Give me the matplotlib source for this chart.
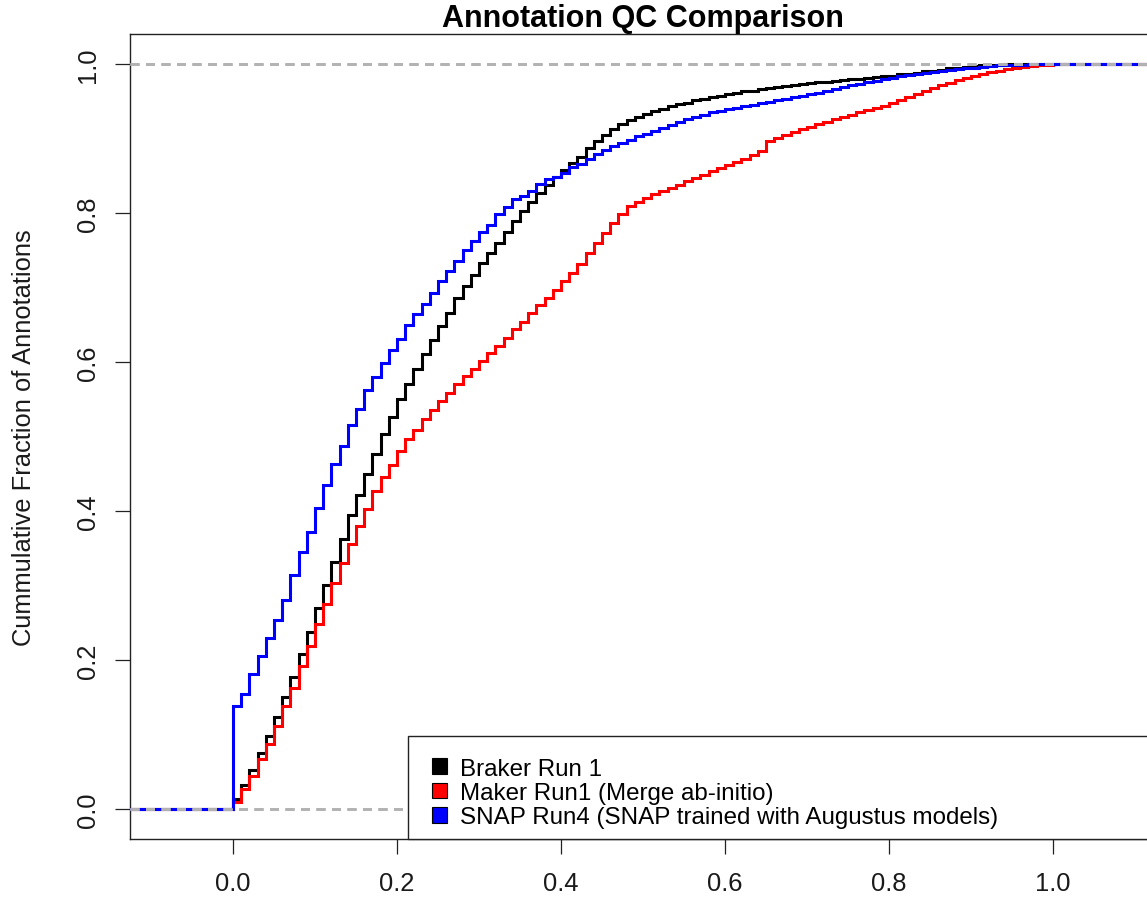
import numpy as np
import matplotlib
matplotlib.use("Agg")
import matplotlib.pyplot as plt
from matplotlib.patches import Patch, Rectangle

plt.rcParams["font.family"] = ["Liberation Sans", "DejaVu Sans"]

# QC score grid (steps of 0.01) and cumulative fraction of annotations at each step
qc_grid = np.round(np.arange(0, 101) / 100.0, 2)

braker_run1 = [
    0.014, 0.033, 0.053, 0.075, 0.098, 0.124, 0.150, 0.178, 0.208, 0.238,
    0.270, 0.301, 0.332, 0.363, 0.395, 0.422, 0.450, 0.477, 0.503, 0.526,
    0.550, 0.571, 0.591, 0.611, 0.630, 0.648, 0.666, 0.686, 0.702, 0.717,
    0.733, 0.746, 0.760, 0.775, 0.789, 0.802, 0.815, 0.827, 0.838, 0.848,
    0.858, 0.867, 0.875, 0.887, 0.896, 0.905, 0.912, 0.919, 0.924, 0.929,
    0.933, 0.937, 0.940, 0.943, 0.946, 0.948, 0.951, 0.953, 0.955, 0.957,
    0.959, 0.961, 0.963, 0.964, 0.966, 0.967, 0.969, 0.970, 0.972, 0.973,
    0.974, 0.975, 0.976, 0.977, 0.978, 0.979, 0.980, 0.981, 0.982, 0.983,
    0.984, 0.986, 0.987, 0.988, 0.990, 0.991, 0.992, 0.994, 0.995, 0.996,
    0.997, 0.998, 0.999, 0.999, 1.000, 1.000, 1.000, 1.000, 1.000, 1.000,
    1.000,
]

maker_run1 = [
    0.009, 0.027, 0.045, 0.067, 0.087, 0.112, 0.138, 0.163, 0.192, 0.219,
    0.248, 0.275, 0.304, 0.330, 0.356, 0.380, 0.403, 0.427, 0.445, 0.462,
    0.480, 0.496, 0.509, 0.524, 0.536, 0.547, 0.559, 0.570, 0.581, 0.591,
    0.601, 0.612, 0.622, 0.632, 0.644, 0.654, 0.666, 0.676, 0.686, 0.697,
    0.708, 0.719, 0.732, 0.746, 0.760, 0.773, 0.786, 0.799, 0.809, 0.815,
    0.820, 0.825, 0.829, 0.834, 0.838, 0.843, 0.847, 0.851, 0.856, 0.860,
    0.864, 0.868, 0.872, 0.877, 0.883, 0.897, 0.901, 0.905, 0.908, 0.912,
    0.915, 0.919, 0.922, 0.926, 0.929, 0.932, 0.935, 0.938, 0.941, 0.944,
    0.947, 0.951, 0.955, 0.959, 0.963, 0.967, 0.971, 0.974, 0.978, 0.981,
    0.984, 0.987, 0.989, 0.991, 0.993, 0.995, 0.996, 0.997, 0.998, 0.999,
    1.000,
]

snap_run4 = [
    0.139, 0.154, 0.181, 0.206, 0.230, 0.254, 0.281, 0.314, 0.345, 0.372,
    0.404, 0.435, 0.463, 0.487, 0.515, 0.537, 0.562, 0.580, 0.599, 0.616,
    0.631, 0.649, 0.664, 0.678, 0.693, 0.708, 0.722, 0.735, 0.750, 0.762,
    0.774, 0.784, 0.798, 0.808, 0.818, 0.823, 0.829, 0.839, 0.846, 0.848,
    0.853, 0.861, 0.866, 0.872, 0.879, 0.885, 0.890, 0.894, 0.898, 0.903,
    0.906, 0.910, 0.914, 0.918, 0.922, 0.926, 0.929, 0.932, 0.935, 0.937,
    0.939, 0.941, 0.943, 0.945, 0.947, 0.949, 0.951, 0.953, 0.955, 0.957,
    0.959, 0.961, 0.963, 0.966, 0.969, 0.971, 0.973, 0.975, 0.977, 0.979,
    0.981, 0.983, 0.985, 0.986, 0.988, 0.989, 0.991, 0.992, 0.993, 0.994,
    0.995, 0.996, 0.997, 0.998, 0.998, 0.999, 0.999, 1.000, 1.000, 1.000,
    1.000,
]

series_labels = [
    "Braker Run 1",
    "Maker Run1 (Merge ab-initio)",
    "SNAP Run4 (SNAP trained with Augustus models)",
]
series_colors = ["#000000", "#FF0000", "#0000FF"]
series_values = [braker_run1, maker_run1, snap_run4]

x_ticks = [0.0, 0.2, 0.4, 0.6, 0.8, 1.0]
y_ticks = [0.0, 0.2, 0.4, 0.6, 0.8, 1.0]

XLIM = (-0.1256, 1.1256)
YLIM = (-0.04, 1.04)

W, H = 1147, 904
fig = plt.figure(figsize=(W / 100, H / 100), dpi=100)
ax = fig.add_axes([130 / W, (H - 840) / H, 1026 / W, 805 / H])
ax.set_xlim(*XLIM)
ax.set_ylim(*YLIM)

# empirical CDFs as post-steps, extended to the plot edges
for vals, col in zip(series_values, series_colors):
    xs = np.concatenate([[XLIM[0]], qc_grid, [XLIM[1]]])
    ys = np.concatenate([[0.0], vals, [1.0]])
    ax.step(xs, ys, where="post", color=col, lw=2.2, zorder=3,
            solid_joinstyle="miter")
    # reference lines at 0 and 1
    for h in (0.0, 1.0):
        ax.axhline(h, color="#B3B3B3", lw=1.8, ls=(0, (3.6, 2.6)), zorder=4)

ax.set_xticks(x_ticks)
ax.set_yticks(y_ticks)
ax.set_xticklabels([f"{v:.1f}" for v in x_ticks])
ax.set_yticklabels([f"{v:.1f}" for v in y_ticks], rotation=90, va="center", ha="right")
ax.tick_params(axis="both", direction="out", length=10.8, width=0.9,
               colors="#222222", labelsize=18.4, labelcolor="#1a1a1a")
ax.tick_params(axis="x", top=False, pad=12.5)
ax.tick_params(axis="y", right=False, pad=10.8)
for sp in ax.spines.values():
    sp.set_linewidth(1.0)
    sp.set_color("#222222")

ax.set_ylabel("Cummulative Fraction of Annotations", fontsize=18.4, color="#1a1a1a")
ax.yaxis.set_label_coords(-0.0916, 0.5)
ax.set_title("Annotation QC Comparison", fontsize=22, fontweight="bold", pad=6,
             color="#000000")

# legend box in the lower-right corner
ax.add_patch(Rectangle(((408 - 130) / 1026, 0.0), 1.05, (840 - 737) / 805,
                       transform=ax.transAxes, facecolor="white",
                       edgecolor="#222222", lw=1.0, zorder=5, clip_on=False))
handles = [Patch(facecolor=c, edgecolor="#000000", lw=0.8) for c in series_colors]
leg = ax.legend(handles, series_labels, loc="center left",
                bbox_to_anchor=((432 - 130) / 1026, (840 - 794) / 805),
                frameon=False, fontsize=17.4, borderpad=0, borderaxespad=0,
                handlelength=0.6, handleheight=0.62, handletextpad=0.55,
                labelspacing=0.1)
leg.set_zorder(6)

fig.savefig("out.png", dpi=100)
